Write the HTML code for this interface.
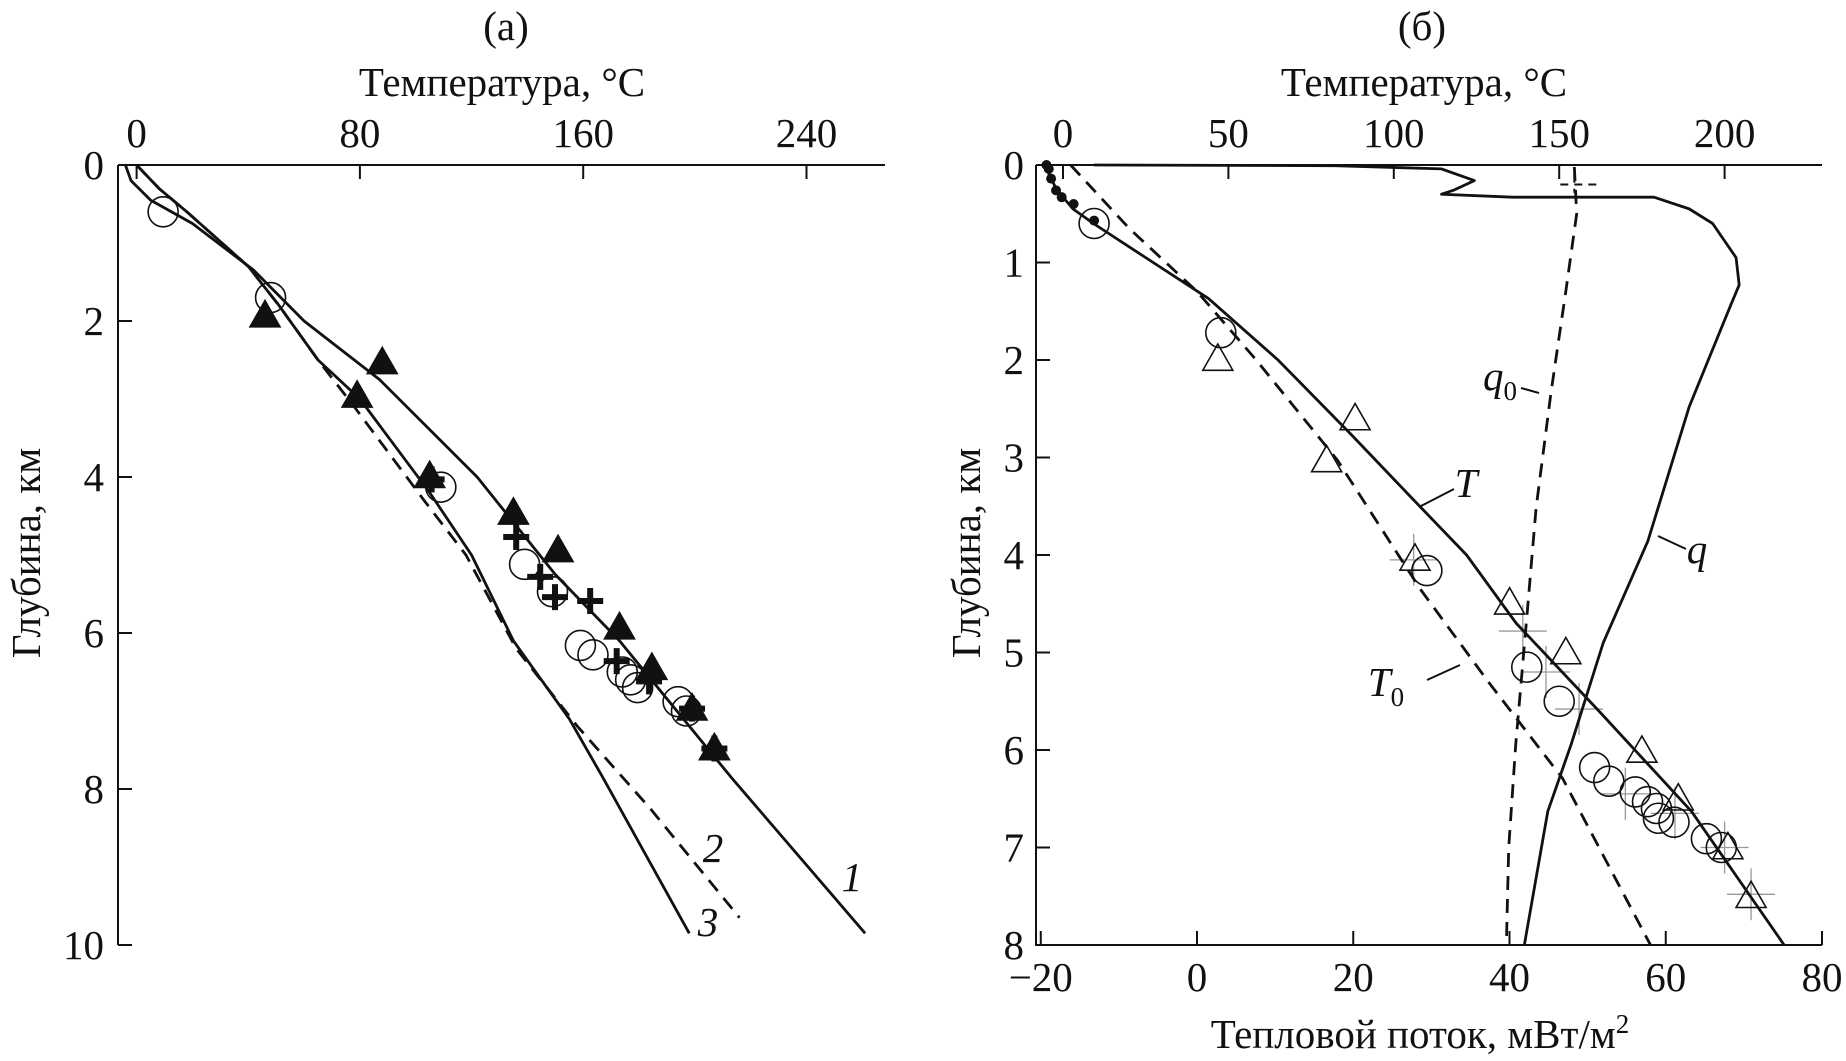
<!DOCTYPE html>
<html><head><meta charset="utf-8"><style>
body{margin:0;background:#fff}
svg{display:block}
text{font-family:"Liberation Serif",serif;fill:#111}
</style></head><body>
<svg id="s" width="1846" height="1061" xmlns="http://www.w3.org/2000/svg"></svg>
<script>
// ---- Panel (a) data: [temperature °C, depth km]
const aCurve1 = [[-4,0],[-2,0.2],[5,0.45],[20,0.75],[42,1.35],[60,2.0],[87,2.75],[122,4.0],[150,5.25],[173,6.1],[213,7.85],[261,9.85]];
const aCurve3 = [[0,0],[8,0.3],[18,0.6],[40,1.3],[51,1.8],[65,2.5],[80,3.0],[105,4.2],[120,5.0],[135,6.1],[155,7.1],[167,7.85],[198,9.85]];
const aCurve2 = [[0,0],[8,0.3],[18,0.6],[40,1.3],[51,1.8],[65,2.5],[78,3.1],[103,4.3],[118,5.0],[136,6.2],[158,7.2],[184,8.25],[216,9.65]];
const aCircles = [[9.5,0.6],[48,1.7],[109,4.13],[139,5.12],[149,5.47],[159,6.16],[163.5,6.28],[174,6.5],[177,6.6],[179.5,6.7],[194,6.88],[197,7.0]];
const aTriangles = [[46,1.93],[88,2.53],[79,2.96],[105,3.99],[135,4.46],[151,4.94],[173,5.93],[184.6,6.45],[199,6.97],[207,7.48]];
const aPluses = [[105.7,4.03],[136,4.77],[144.6,5.28],[149.9,5.54],[162.5,5.59],[172,6.36],[183.6,6.62],[199,6.97],[207,7.48]];
const aTempTicks = [0,80,160,240];
const aDepthTicks = [0,2,4,6,8,10];
// ---- Panel (б) data
const bT = [[-4.8,0.05],[-2,0.25],[3,0.45],[9.2,0.6],[25,0.95],[44,1.37],[65,2.0],[87,2.76],[105,3.4],[122,4.0],[137,4.7],[162,5.6],[190,6.63],[218,8]];
const bT0 = [[2.3,0],[20,0.65],[40.6,1.3],[58.4,2.0],[83,3.03],[108,4.35],[129,5.32],[151,6.29],[177.6,8]];
const bDots = [[-5,0],[-4.3,0.04],[-3.6,0.14],[-2.1,0.26],[-0.4,0.33],[3.2,0.4],[9.4,0.57]];
const bq = [[-13.2,0],[17.7,0.007],[31.3,0.04],[35.5,0.16],[32.8,0.26],[31.3,0.3],[40.4,0.33],[58.5,0.33],[63,0.45],[66,0.6],[69,0.95],[69.4,1.23],[68.3,1.44],[63,2.48],[57.7,3.86],[52,4.9],[47.9,5.94],[44.9,6.63],[41.9,8]];
const bq0 = [[48.3,0.02],[48.6,0.5],[47.2,1.3],[45.3,2.34],[43.4,3.52],[42.3,4.56],[40.8,5.94],[39.9,7],[39.6,8]];
const bCircles = [[9.4,0.6],[47.7,1.72],[110,4.16],[140.2,5.15],[150,5.5],[160.7,6.18],[165,6.32],[173,6.43],[176.7,6.53],[179.4,6.6],[180,6.7],[184.7,6.74],[194.5,6.91],[199,7.0]];
const bTriangles = [[46.8,1.99],[88.3,2.6],[79.7,3.03],[106.4,4.04],[135,4.49],[152,5.0],[175,6.01],[186,6.5],[201,7.0],[208,7.5]];
const bErrT = [[106,4.05],[139,4.78],[146,5.2],[156,5.58],[170,6.45],[185,6.65],[200,7.0],[208,7.48]];
const bTempTicks = [0,50,100,150,200];
const bFluxTicks = [-20,0,20,40,60,80];
const bDepthTicks = [0,1,2,3,4,5,6,7,8];

const S=document.getElementById('s'),NS='http://www.w3.org/2000/svg';
function mk(t,a,p){const e=document.createElementNS(NS,t);for(const k in a)e.setAttribute(k,a[k]);(p||S).appendChild(e);return e;}
// scales
const ax=t=>136.6+t*223.3/80, ay=d=>165+d*78;
const bxT=t=>1063+t*165.4/50, bxF=f=>1197+f*156.25/20, by=d=>165+d*97.5;
const FS=41;
function line(pts,fx,fy,dash,name,w){const e=mk('polyline',{points:pts.map(p=>fx(p[0])+','+fy(p[1])).join(' '),fill:'none',stroke:'#111','stroke-width':w||2.8,'stroke-dasharray':dash||'none','stroke-linejoin':'round'});

}
function txt(x,y,s,name,o){const e=mk('text',Object.assign({x:x,y:y,'font-size':FS,'text-anchor':'middle'},o||{}));e.textContent=s;

return e;}
function circ(x,y,name){const e=mk('circle',{cx:x,cy:y,r:15,fill:'none',stroke:'#111','stroke-width':1.6});

}
function tri(x,y,fill,name){const r=15;const e=mk('polygon',{points:`${x},${y-r} ${x-r},${y+r*0.75} ${x+r},${y+r*0.75}`,fill:fill?'#111':'none',stroke:'#111','stroke-width':1.6});

}
function plus(x,y,name){const e=mk('path',{d:`M${x-13},${y}H${x+13}M${x},${y-13}V${y+13}`,stroke:'#111','stroke-width':6});

}

// ---- Panel (a) axes
mk('path',{d:'M118,165H885M118,165V945',stroke:'#111','stroke-width':2,fill:'none'});
aTempTicks.forEach(t=>{mk('path',{d:`M${ax(t)},165v14`,stroke:'#111','stroke-width':2});txt(ax(t),147,t,'a-temp-tick');});
aDepthTicks.forEach(d=>{mk('path',{d:`M118,${ay(d)}h14`,stroke:'#111','stroke-width':2});txt(104,ay(d)+14,d,'a-depth-tick',{'text-anchor':'end'});});
txt(506,40,'(a)','panel-a-title');
txt(502,96,'Температура, °C','a-x-axis-title');
txt(0,0,'Глубина, км','a-y-axis-title',{transform:'translate(40,553) rotate(-90)'});
line(aCurve1,ax,ay,null,'a-curve-1');
line(aCurve3,ax,ay,null,'a-curve-3');
line(aCurve2,ax,ay,'14,9','a-curve-2-dashed');
aCircles.forEach(p=>circ(ax(p[0]),ay(p[1]),'a-circle-point'));
aTriangles.forEach(p=>tri(ax(p[0]),ay(p[1]),true,'a-triangle-point'));
aPluses.forEach(p=>plus(ax(p[0]),ay(p[1]),'a-plus-point'));
txt(852,891,'1','a-label-1',{'font-style':'italic'});
txt(713,862,'2','a-label-2',{'font-style':'italic'});
txt(708,936,'3','a-label-3',{'font-style':'italic'});

// ---- Panel (б) axes
mk('path',{d:'M1036,165H1822M1036,165V945H1822',stroke:'#111','stroke-width':2,fill:'none'});
bTempTicks.forEach(t=>{mk('path',{d:`M${bxT(t)},165v14`,stroke:'#111','stroke-width':2});txt(bxT(t),147,t,'b-temp-tick');});
bFluxTicks.forEach(f=>{mk('path',{d:`M${bxF(f)},945v-14`,stroke:'#111','stroke-width':2});txt(bxF(f),991,f<0?'−'+(-f):f,'b-flux-tick');});
bDepthTicks.forEach(d=>{mk('path',{d:`M1036,${by(d)}h14`,stroke:'#111','stroke-width':2});txt(1024,by(d)+14,d,'b-depth-tick',{'text-anchor':'end'});});
txt(1422,40,'(б)','panel-b-title');
txt(1424,96,'Температура, °C','b-x-top-axis-title');
const bl=txt(1420,1048,'Тепловой поток, мВт/м','b-x-bottom-axis-title');
const sup=mk('tspan',{dy:-15,'font-size':27},bl);sup.textContent='2';
txt(0,0,'Глубина, км','b-y-axis-title',{transform:'translate(980,553) rotate(-90)'});
// error crosses
bErrT.forEach(p=>{const x=bxT(p[0]),y=by(p[1]);const e=mk('path',{d:`M${x-24},${y}H${x+24}M${x},${y-26}V${y+26}`,stroke:'#999','stroke-width':1.3});

});
line(bT,bxT,by,null,'b-curve-T');
line(bT0,bxT,by,'14,9','b-curve-T0-dashed');
line(bq,bxF,by,null,'b-curve-q');
line(bq0,bxF,by,'14,9','b-curve-q0-dashed');
mk('path',{d:`M${bxF(48.3)},${by(0.1)}v18M${bxF(46.5)},${by(0.2)}h42`,stroke:'#111','stroke-width':2,'stroke-dasharray':'8,6'});
bDots.forEach(p=>{const e=mk('circle',{cx:bxT(p[0]),cy:by(p[1]),r:5,fill:'#111'});

});
bCircles.forEach(p=>circ(bxT(p[0]),by(p[1]),'b-circle-point'));
bTriangles.forEach(p=>tri(bxT(p[0]),by(p[1]),false,'b-triangle-point'));
// labels with leaders
mk('path',{d:'M1521,388L1539,393M1421,506L1454,489M1658,536L1686,549M1427,680L1460,665',stroke:'#111','stroke-width':2});
const q0=txt(1500,390,'q','b-label-q0',{'font-style':'italic'});const s0=mk('tspan',{dy:10,'font-size':27,'font-style':'normal'},q0);s0.textContent='0';
txt(1466,497,'T','b-label-T',{'font-style':'italic'});
txt(1697,563,'q','b-label-q',{'font-style':'italic'});
const t0=txt(1386,696,'T','b-label-T0',{'font-style':'italic'});const s1=mk('tspan',{dy:10,'font-size':27,'font-style':'normal'},t0);s1.textContent='0';
</script>
</body></html>
